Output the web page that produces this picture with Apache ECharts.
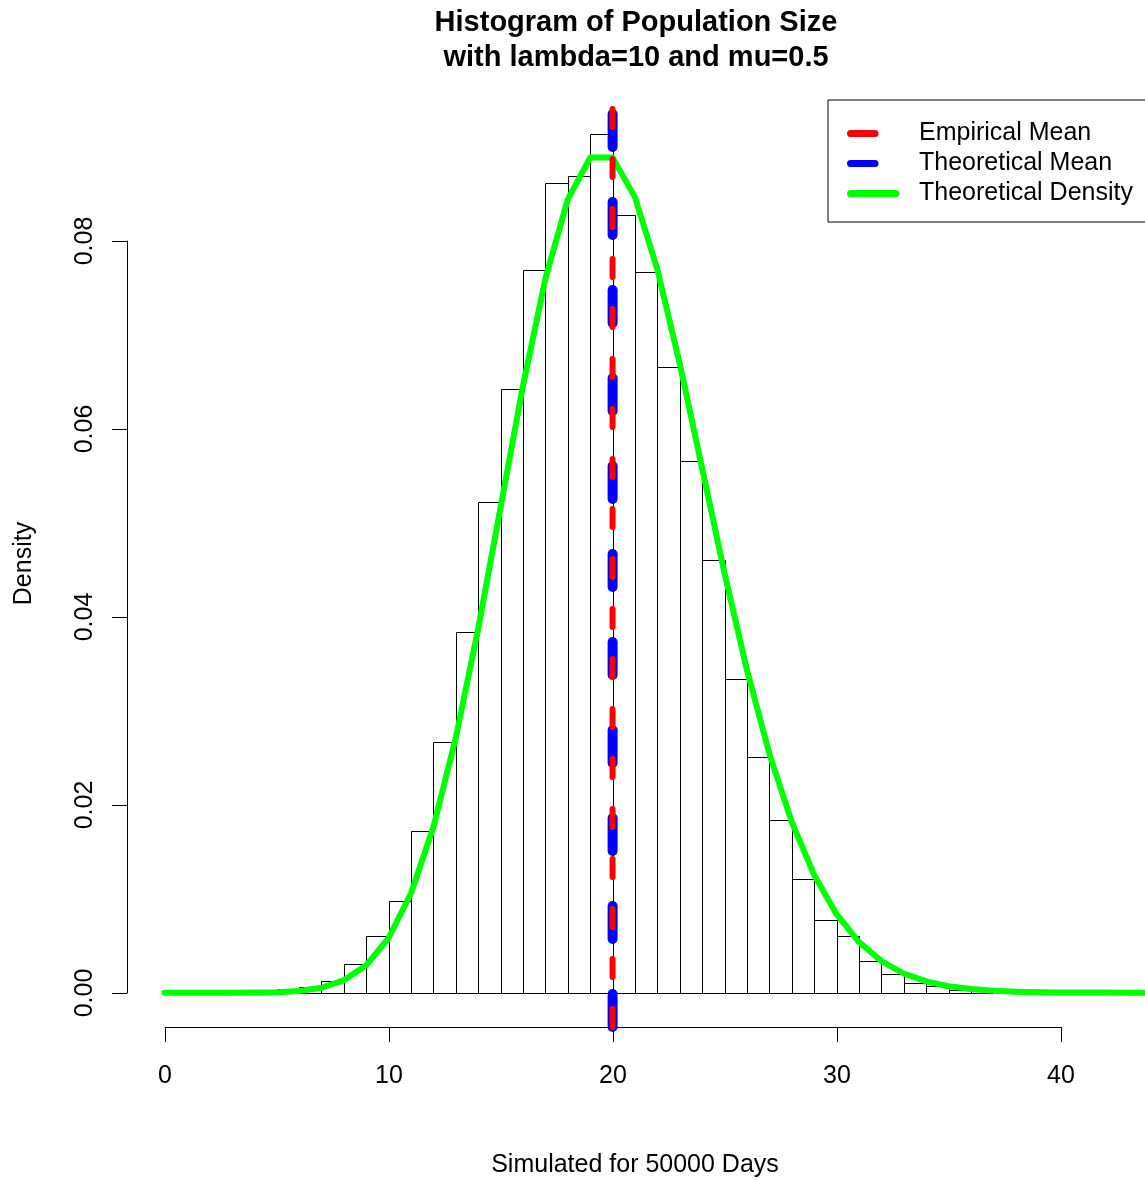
<!DOCTYPE html>
<html>
<head>
<meta charset="utf-8">
<title>Histogram of Population Size</title>
<script src="https://cdn.jsdelivr.net/npm/echarts@6/dist/echarts.min.js"></script>
<style>
  html, body { margin: 0; padding: 0; background: #ffffff; }
  #chart { width: 1145px; height: 1180px; }
</style>
</head>
<body>
<div id="chart"></div>
<script>
// Histogram bins: lower edge of each unit-width bin and its density
const binLower = [5, 6, 7, 8, 9, 10, 11, 12, 13, 14, 15, 16, 17, 18, 19, 20,
                  21, 22, 23, 24, 25, 26, 27, 28, 29, 30, 31, 32, 33, 34, 35, 36];
const binDensity = [0.00039, 0.00064, 0.00128, 0.00309, 0.00599, 0.00979, 0.01723, 0.02670,
                    0.03837, 0.05216, 0.06422, 0.07684, 0.08614, 0.08684, 0.09131, 0.08277,
                    0.07667, 0.06660, 0.05652, 0.04606, 0.03337, 0.02511, 0.01836, 0.01206,
                    0.00772, 0.00607, 0.00335, 0.00194, 0.00099, 0.00067, 0.00028, 0.00014];

// Theoretical density evaluated at integer population sizes
const densityX = [0, 1, 2, 3, 4, 5, 6, 7, 8, 9, 10, 11, 12, 13, 14, 15, 16, 17, 18, 19, 20, 21, 22,
                  23, 24, 25, 26, 27, 28, 29, 30, 31, 32, 33, 34, 35, 36, 37, 38, 39, 40, 41, 42, 43, 44];
const densityY = [0.000000002, 0.00000004, 0.0000004, 0.0000027, 0.0000137, 0.000055, 0.000183,
                  0.000523, 0.001309, 0.002908, 0.005816, 0.010575, 0.017625, 0.027116, 0.038737,
                  0.051649, 0.064561, 0.075954, 0.084394, 0.088835, 0.088835, 0.084605, 0.076914,
                  0.066881, 0.055735, 0.044588, 0.034298, 0.025406, 0.018147, 0.012515, 0.008344,
                  0.005383, 0.003364, 0.002039, 0.001199, 0.000685, 0.000381, 0.000206, 0.000108,
                  0.0000556, 0.0000278, 0.0000135, 0.0000064, 0.000003, 0.0000014];

// Means
const empiricalMean = 19.998;
const theoreticalMean = 20;

// Axis ticks
const xTicks = [0, 10, 20, 30, 40];
const yTicks = [0, 0.02, 0.04, 0.06, 0.08];

const FONT = "'Liberation Sans', Arial, Helvetica, sans-serif";

// Plot-region data range (R style: 4% padding on each side)
const xRange = [0, 42];
const yRange = [0, Math.max.apply(null, binDensity)];
const pad = (r) => [r[0] - 0.04 * (r[1] - r[0]), r[1] + 0.04 * (r[1] - r[0])];
const xDomain = pad(xRange);
const yDomain = pad(yRange);

const histData = binLower.map((lo, i) => [lo, lo + 1, binDensity[i]]);
const curveData = densityX.map((x, i) => [x, densityY[i]]);
const vline = (x) => [[x, yDomain[0]], [x, yDomain[1]]];

// Legend glyphs: rounded strokes, padded to a common width
const shortStroke = 'path://M3.5,0H28A3.5,3.5,0,0,1,28,7H3.5A3.5,3.5,0,0,1,3.5,0ZM67,0L67,7';
const longStroke = 'path://M3.5,0H49A3.5,3.5,0,0,1,49,7H3.5A3.5,3.5,0,0,1,3.5,0ZM67,0L67,7';

const hiddenAxis = {
  axisLine: { show: false }, axisTick: { show: false },
  axisLabel: { show: false }, splitLine: { show: false }
};

const chart = echarts.init(document.getElementById('chart'), null, { renderer: 'canvas' });

chart.setOption({
  animation: false,
  backgroundColor: '#ffffff',
  title: {
    text: 'Histogram of Population Size\nwith lambda=10 and mu=0.5',
    left: 636,
    top: 5,
    padding: 0,
    textAlign: 'center',
    textStyle: {
      fontFamily: FONT, fontSize: 29, fontWeight: 'bold', color: '#000000', lineHeight: 35
    }
  },
  legend: {
    orient: 'vertical',
    left: 828,
    top: 100,
    padding: [21, 15, 16, 19],
    itemGap: 5,
    itemWidth: 67,
    itemHeight: 7,
    borderColor: '#000000',
    borderWidth: 1,
    borderRadius: 0,
    backgroundColor: '#ffffff',
    selectedMode: false,
    itemStyle: { borderWidth: 0 },
    textStyle: { fontFamily: FONT, fontSize: 25, color: '#000000', lineHeight: 25 },
    data: [
      { name: 'Empirical Mean', icon: shortStroke },
      { name: 'Theoretical Mean', icon: shortStroke },
      { name: 'Theoretical Density', icon: longStroke }
    ]
  },
  grid: [
    { left: 127, top: 100, width: 1016, height: 927, outerBoundsMode: 'none', containLabel: false },
    { left: 165, top: 1026, width: 896, height: 1, outerBoundsMode: 'none', containLabel: false },
    { left: 127, top: 241, width: 1, height: 752, outerBoundsMode: 'none', containLabel: false }
  ],
  xAxis: [
    Object.assign({}, hiddenAxis, {
      type: 'value', gridIndex: 0, min: xDomain[0], max: xDomain[1],
      name: 'Simulated for 50000 Days', nameLocation: 'middle', nameGap: 126,
      nameMoveOverlap: false,
      nameTextStyle: { fontFamily: FONT, fontSize: 25, color: '#000000', lineHeight: 25 }
    }),
    {
      type: 'value', gridIndex: 1, position: 'bottom',
      min: xTicks[0], max: xTicks[xTicks.length - 1], interval: xTicks[1] - xTicks[0],
      axisLine: { show: true, onZero: false, lineStyle: { color: '#000000', width: 1 } },
      axisTick: { show: true, inside: false, length: 15, lineStyle: { color: '#000000', width: 1 } },
      axisLabel: {
        show: true, margin: 37, fontFamily: FONT, fontSize: 25, color: '#000000', lineHeight: 25,
        showMinLabel: true, showMaxLabel: true, hideOverlap: false
      },
      splitLine: { show: false }
    },
    Object.assign({}, hiddenAxis, { type: 'value', gridIndex: 2, min: 0, max: 1 })
  ],
  yAxis: [
    Object.assign({}, hiddenAxis, {
      type: 'value', gridIndex: 0, min: yDomain[0], max: yDomain[1],
      name: 'Density', nameLocation: 'middle', nameGap: 90, nameRotate: 90,
      nameMoveOverlap: false,
      nameTextStyle: { fontFamily: FONT, fontSize: 25, color: '#000000', lineHeight: 25 }
    }),
    Object.assign({}, hiddenAxis, { type: 'value', gridIndex: 1, min: 0, max: 1 }),
    {
      type: 'value', gridIndex: 2, position: 'left',
      min: yTicks[0], max: yTicks[yTicks.length - 1], interval: yTicks[1] - yTicks[0],
      axisLine: { show: true, onZero: false, lineStyle: { color: '#000000', width: 1 } },
      axisTick: { show: true, inside: false, length: 15, lineStyle: { color: '#000000', width: 1 } },
      axisLabel: {
        show: true, rotate: 90, margin: 29, fontFamily: FONT, fontSize: 25, color: '#000000',
        lineHeight: 25, showMinLabel: true, showMaxLabel: true, hideOverlap: false,
        formatter: (v) => v.toFixed(2)
      },
      splitLine: { show: false }
    }
  ],
  series: [
    {
      name: 'histogram',
      type: 'custom',
      xAxisIndex: 0, yAxisIndex: 0,
      z: 2,
      clip: true,
      data: histData,
      renderItem: function (params, api) {
        const topLeft = api.coord([api.value(0), api.value(2)]);
        const bottomRight = api.coord([api.value(1), 0]);
        const x0 = Math.round(topLeft[0]) + 0.5;
        const x1 = Math.round(bottomRight[0]) + 0.5;
        const y0 = Math.round(topLeft[1]) + 0.5;
        const y1 = Math.round(bottomRight[1]) + 0.5;
        return {
          type: 'rect',
          shape: { x: x0, y: y0, width: x1 - x0, height: y1 - y0 },
          style: { fill: 'none', stroke: '#000000', lineWidth: 1 }
        };
      }
    },
    {
      name: 'Theoretical Density',
      type: 'line',
      xAxisIndex: 0, yAxisIndex: 0,
      z: 3,
      data: curveData,
      symbol: 'none',
      clip: true,
      color: '#00ff00',
      lineStyle: { color: '#00ff00', width: 6, cap: 'round', join: 'round' }
    },
    {
      name: 'Theoretical Mean',
      type: 'line',
      xAxisIndex: 0, yAxisIndex: 0,
      z: 4,
      data: vline(theoreticalMean),
      symbol: 'none',
      clip: true,
      color: '#0000ff',
      lineStyle: { color: '#0000ff', width: 10, type: [33, 55], cap: 'round' }
    },
    {
      name: 'Empirical Mean',
      type: 'line',
      xAxisIndex: 0, yAxisIndex: 0,
      z: 5,
      data: vline(empiricalMean),
      symbol: 'none',
      clip: true,
      color: '#ff0000',
      lineStyle: { color: '#ff0000', width: 6, type: [18, 32], cap: 'round' }
    }
  ]
});
</script>
</body>
</html>
